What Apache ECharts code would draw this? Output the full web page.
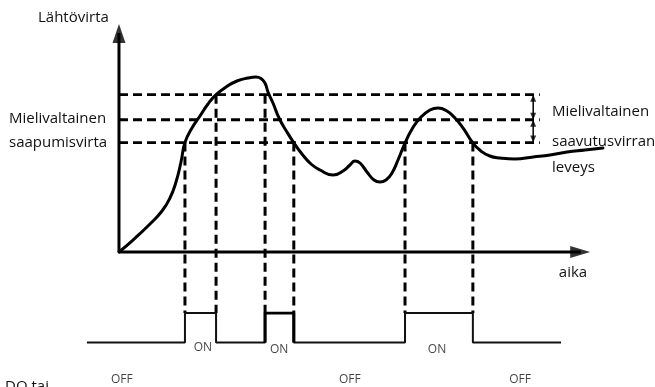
<!DOCTYPE html>
<html>
<head>
<meta charset="utf-8">
<script src="https://cdn.jsdelivr.net/npm/echarts@6/dist/echarts.min.js"></script>
<style>
  html, body { margin: 0; padding: 0; background: #fff; }
  #chart { width: 655px; height: 387px; }
</style>
</head>
<body>
<div id="chart"></div>
<script>
// Output current over time (upper plot) and the DO switching state (lower trace)
const curveTime = [0, 2.97, 6.58, 9.13, 10.82, 12.10, 13.16, 14.0, 15.49, 17.19, 18.89, 20.6, 22.71, 25.04,
  27.38, 29.07, 30.14, 30.98, 31.62, 32.68, 33.96, 35.65, 37.14, 38.84, 40.75, 42.66, 45.42, 47.54, 49.02,
  50.08, 51.15, 52.63, 54.12, 55.39, 56.66, 57.94, 59.21, 60.7, 62.2, 63.9, 66.0, 67.7, 69.6, 71.3, 73.0,
  75.1, 76.8, 78.7, 80.9, 84.0, 87.9, 91.5, 95.1, 98.9, 102.7];
const curveCurrent = [0, 5.26, 12.28, 17.98, 23.68, 30.70, 39.47, 48, 54.39, 59.65, 64.91, 69, 72.37, 75.0,
  76.32, 76.75, 76.1, 74.12, 70.18, 65.35, 58.77, 52.63, 47.81, 42.98, 38.6, 35.96, 33.77, 35.53, 38.16,
  39.91, 39.04, 35.09, 31.58, 30.7, 31.58, 34.65, 40.35, 47.81, 53.95, 58.77, 62.28, 63.16, 61.84, 58.77, 54.39,
  47.81, 44.3, 42.1, 41.23, 40.79, 41.67, 42.54, 43.86, 44.74, 45.61];

// Arrival current levels: lower bound, set value, upper bound
const thresholdLevels = [48, 58, 69];
const thresholdEnd = 89.3;
const widthMarkerTime = 87.9;

// Moments where DO toggles and the level the current crossed at that moment
const switchTimes = [14.0, 20.6, 31.0, 37.1, 60.7, 75.1];
const switchLevels = [48, 69, 69, 48, 48, 48];
const doStart = -6.8;
const doEnd = 93.8;

// State labels of the DO trace
const onLabels = ['ON', 'ON', 'ON'];
const onTimes = [17.8, 34.0, 67.5];
const onLevels = [-0.17, -0.25, -0.25];
const offLabels = ['OFF', 'OFF', 'OFF'];
const offTimes = [0.6, 49.0, 85.1];
const offLevel = -1.25;

// Axis extents
const T_MIN = -25.25, T_MAX = 113.75;
const I_MIN = -26.75, I_MAX = 100;
const TIME_AXIS_END = 100;
const CURRENT_AXIS_END = 100;

const INK = '#000';
const FONT = '"Open Sans", "Noto Sans", sans-serif';

// DO trace as a stepped polyline
const doPoints = [[doStart, 0]];
let state = 0;
switchTimes.forEach(t => {
  doPoints.push([t, state]);
  state = 1 - state;
  doPoints.push([t, state]);
});
doPoints.push([doEnd, state]);
const boldPulse = [[switchTimes[2], 0], [switchTimes[2], 1], [switchTimes[3], 1], [switchTimes[3], 0]];

const series = [];

// axes drawn as plain lines with arrow heads
series.push({
  type: 'line', xAxisIndex: 0, yAxisIndex: 0, symbol: 'none', silent: true,
  data: [[0, 0], [0, CURRENT_AXIS_END - 4]],
  lineStyle: { color: INK, width: 3 }, z: 5
});
series.push({
  type: 'line', xAxisIndex: 0, yAxisIndex: 0, symbol: 'none', silent: true,
  data: [[0, 0], [TIME_AXIS_END - 2, 0]],
  lineStyle: { color: INK, width: 3 }, z: 5
});
series.push({
  type: 'scatter', xAxisIndex: 0, yAxisIndex: 0, silent: true, z: 6,
  itemStyle: { color: INK },
  data: [
    { value: [0, CURRENT_AXIS_END], symbol: 'triangle', symbolSize: [13, 19], symbolOffset: [0, 9.5] },
    { value: [TIME_AXIS_END, 0], symbol: 'triangle', symbolSize: [12, 20], symbolRotate: -90, symbolOffset: [-10, 0] }
  ]
});

// threshold dashed lines
thresholdLevels.forEach(lv => {
  series.push({
    type: 'line', xAxisIndex: 0, yAxisIndex: 0, symbol: 'none', silent: true,
    data: [[0, lv], [thresholdEnd, lv]],
    lineStyle: { color: INK, width: 2.8, type: [9, 5] }, z: 3
  });
});

// vertical connectors from the crossing down to the DO trace
switchTimes.forEach((t, i) => {
  series.push({
    type: 'line', xAxisIndex: 0, yAxisIndex: 0, symbol: 'none', silent: true,
    data: [[t, switchLevels[i]], [t, I_MIN]],
    lineStyle: { color: INK, width: 3, type: [9, 5] }, z: 3
  });
});

// band width marker with double arrows
series.push({
  type: 'line', xAxisIndex: 0, yAxisIndex: 0, symbol: 'none', silent: true,
  data: [[widthMarkerTime, thresholdLevels[2]], [widthMarkerTime, thresholdLevels[0]]],
  lineStyle: { color: INK, width: 1.5 }, z: 4
});
series.push({
  type: 'scatter', xAxisIndex: 0, yAxisIndex: 0, silent: true, z: 6,
  symbol: 'triangle', symbolSize: [6, 7],
  itemStyle: { color: INK },
  data: [
    { value: [widthMarkerTime, thresholdLevels[2]], symbolOffset: [0, 3.5] },
    { value: [widthMarkerTime, thresholdLevels[1]], symbolRotate: 180, symbolOffset: [0, -3.5] },
    { value: [widthMarkerTime, thresholdLevels[1]], symbolOffset: [0, 3.5] },
    { value: [widthMarkerTime, thresholdLevels[0]], symbolRotate: 180, symbolOffset: [0, -3.5] }
  ]
});

// output current curve
series.push({
  type: 'line', xAxisIndex: 0, yAxisIndex: 0, symbol: 'none', silent: true,
  smooth: 0.5,
  data: curveTime.map((t, i) => [t, curveCurrent[i]]),
  lineStyle: { color: INK, width: 3, join: 'round', cap: 'round' }, z: 7
});

// DO trace
series.push({
  type: 'line', xAxisIndex: 1, yAxisIndex: 1, symbol: 'none', silent: true,
  data: doPoints,
  lineStyle: { color: '#111', width: 2 }, z: 4
});
series.push({
  type: 'line', xAxisIndex: 1, yAxisIndex: 1, symbol: 'none', silent: true,
  data: boldPulse,
  lineStyle: { color: INK, width: 3.2 }, z: 5
});

// ON / OFF labels
const stateLabel = (names, times, levels) => ({
  type: 'scatter', xAxisIndex: 1, yAxisIndex: 1, silent: true, symbolSize: 0,
  data: names.map((n, i) => ({ name: n, value: [times[i], levels[i]] })),
  label: {
    show: true, position: 'inside', formatter: '{b}',
    color: '#111', fontSize: 12, fontFamily: FONT
  }
});
series.push(stateLabel(onLabels, onTimes, onLevels));
series.push(stateLabel(offLabels, offTimes, offTimes.map(() => offLevel)));

const txt = (text, x, y, align) => ({
  type: 'text', x, y, silent: true,
  style: {
    text, fill: '#111', font: '15px ' + FONT,
    textAlign: align || 'left', textVerticalAlign: 'middle'
  }
});

const option = {
  animation: false,
  backgroundColor: '#fff',
  grid: [
    { left: 0, right: 0, top: 24, height: 289 },
    { left: 0, right: 0, top: 313, height: 75 }
  ],
  xAxis: [
    { type: 'value', gridIndex: 0, min: T_MIN, max: T_MAX, show: false },
    { type: 'value', gridIndex: 1, min: T_MIN, max: T_MAX, show: false }
  ],
  yAxis: [
    { type: 'value', gridIndex: 0, min: I_MIN, max: I_MAX, show: false },
    { type: 'value', gridIndex: 1, min: -1.5, max: 1, show: false }
  ],
  graphic: [
    txt('Lähtövirta', 38, 18),
    txt('Mielivaltainen', 9, 119),
    txt('saapumisvirta', 9, 143),
    txt('Mielivaltainen', 552, 112),
    txt('saavutusvirran', 552, 142),
    txt('leveys', 552, 168),
    txt('aika', 573, 273, 'center'),
    txt('DO tai', 5, 387)
  ],
  series
};

const chart = echarts.init(document.getElementById('chart'), null, { renderer: 'canvas' });
chart.setOption(option);
</script>
</body>
</html>
